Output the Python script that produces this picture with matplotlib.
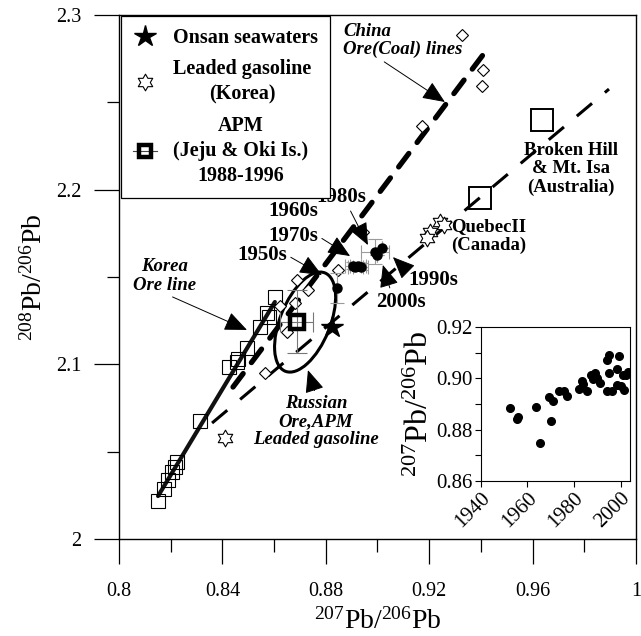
import matplotlib
matplotlib.use('Agg')
import matplotlib.pyplot as plt
import numpy as np
from matplotlib.path import Path
from matplotlib.patches import Ellipse
from matplotlib.transforms import ScaledTranslation
from matplotlib.lines import Line2D

plt.rcParams['font.family'] = ['Liberation Serif', 'DejaVu Serif']
plt.rcParams['mathtext.default'] = 'regular'

# Korean ore (open squares)
korea_x = [0.8152, 0.8174, 0.8188, 0.8204, 0.8217, 0.8226, 0.8313, 0.8427,
           0.8455, 0.8462, 0.8494, 0.8545, 0.8580, 0.8571, 0.8603]
korea_y = [2.0219, 2.0285, 2.0338, 2.0385, 2.0414, 2.0443, 2.0677, 2.0986,
           2.1015, 2.1030, 2.1092, 2.1215, 2.1269, 2.1292, 2.1387]

# China ore / Russian ore (open diamonds)
diam_x = [0.9326, 0.9409, 0.9403, 0.9171, 0.8945, 0.8848, 0.8687, 0.8732,
          0.8623, 0.8681, 0.8649, 0.8565]
diam_y = [2.2885, 2.2685, 2.2594, 2.2364, 2.1759, 2.1540, 2.1483, 2.1426,
          2.1334, 2.1349, 2.1187, 2.0952]

# leaded gasoline (Korea)
gas_x = [0.8410, 0.9242, 0.9203, 0.9190, 0.9258]
gas_y = [2.0577, 2.1817, 2.1758, 2.1725, 2.1800]

# Onsan seawater sediment decades (filled circles)
sw_x = [0.8842, 0.8905, 0.8915, 0.8925, 0.8935, 0.8990, 0.9016, 0.8997]
sw_y = [2.1439, 2.1565, 2.1560, 2.1565, 2.1560, 2.1645, 2.1668, 2.1626]
sw_xerr = [0.0, 0.003, 0.003, 0.003, 0.003, 0.0055, 0.0, 0.0]
sw_yerr = [0.0086, 0.002, 0.002, 0.002, 0.002, 0.007, 0.0, 0.0]

# Onsan seawaters
onsan_x = [0.8823]
onsan_y = [2.1215]

# APM (Jeju & Oki Is.)
apm_x = [0.8687]
apm_y = [2.1244]
apm_xerr = [0.0065]
apm_yerr = [0.018]

# ore deposits (large squares)
ore_x = [0.9636, 0.9397]
ore_y = [2.2399, 2.1952]

# reference lines
korea_line_x = [0.8151, 0.8603]
korea_line_y = [2.0246, 2.1357]
china_line_x = [0.8441, 0.9408]
china_line_y = [2.0870, 2.2771]
bh_line_x = [0.8360, 0.9896]
bh_line_y = [2.0664, 2.2576]

# inset: 207Pb/206Pb vs year
year = [1952.6, 1955.4, 1956.1, 1963.6, 1965.4, 1969.4, 1970.0, 1971.1, 1973.7,
        1975.7, 1976.9, 1982.1, 1983.6, 1983.7, 1985.7, 1987.1, 1988.0, 1989.0,
        1989.7, 1991.1, 1994.0, 1995.0, 1994.3, 1995.1, 1996.3, 1998.3, 1999.3,
        1998.6, 2000.0, 2000.9, 2001.4, 2002.3, 2003.3]
r76 = [0.8884, 0.8841, 0.8848, 0.8888, 0.8746, 0.8929, 0.8834, 0.8910, 0.8949,
       0.8949, 0.8932, 0.8960, 0.8988, 0.8979, 0.8952, 0.9014, 0.8997, 0.9021,
       0.9001, 0.8984, 0.9071, 0.9090, 0.8949, 0.9021, 0.8949, 0.9037, 0.9086,
       0.8975, 0.8969, 0.9014, 0.8956, 0.9014, 0.9027]

# hexagram marker
ang = np.deg2rad(90 + 30 * np.arange(12))
rad = np.where(np.arange(12) % 2 == 0, 1.0, 0.577)
hexv = np.column_stack([rad * np.cos(ang), rad * np.sin(ang)])
hexagram = Path(np.vstack([hexv, hexv[:1]]), closed=True)

fig = plt.figure(figsize=(6.41, 6.36), dpi=100)
ax = fig.add_axes([0.1857, 0.1525, 0.8063, 0.8239])

ax.plot(korea_line_x, korea_line_y, color='#111111', lw=3.0, solid_capstyle='round', zorder=2)
ax.plot(china_line_x, china_line_y, color='black', lw=3.8, dashes=(3.2, 2.6),
        dash_capstyle='round', zorder=2)
ax.plot(bh_line_x, bh_line_y, color='black', lw=2.2, dashes=(6.5, 5.5), zorder=2)

ax.plot(korea_x, korea_y, 's', ms=9.5, mfc='none', mec='black', mew=0.8, zorder=3)
ax.plot(diam_x, diam_y, 'D', ms=6.5, mfc='white', mec='black', mew=0.8, zorder=3)
gas, = ax.plot(gas_x, gas_y, linestyle='none', marker=hexagram, ms=12, mfc='white',
               mec='black', mew=0.8, zorder=4)
ax.errorbar(sw_x, sw_y, xerr=sw_xerr, yerr=sw_yerr, fmt='none', ecolor='#9a9a9a',
            elinewidth=0.8, capsize=5, capthick=0.8, zorder=3)
ax.plot(sw_x, sw_y, 'o', ms=6.5, color='black', zorder=4)
star, = ax.plot(onsan_x, onsan_y, '*', ms=16, color='black', zorder=5)
ax.errorbar(apm_x, apm_y, xerr=apm_xerr, yerr=apm_yerr, fmt='none', ecolor='#777777',
            elinewidth=0.8, capsize=7, capthick=0.8, zorder=4)
ax.plot(apm_x, apm_y, 's', ms=10, mfc='none', mec='black', mew=3.2, zorder=5)
ax.plot(ore_x, ore_y, 's', ms=15.5, mfc='none', mec='black', mew=1.4, zorder=3)

# ellipse drawn in screen units around the mixing region
ell = Ellipse((0, 0), width=1.06, height=0.50, angle=68, fill=False, lw=2.2, color='black',
              transform=fig.dpi_scale_trans + ScaledTranslation(0.8720, 2.1242, ax.transData))
ax.add_patch(ell)

ax.set_xlim(0.8, 1.0)
ax.set_ylim(2.0, 2.3)
ax.set_xticks([0.8, 0.84, 0.88, 0.92, 0.96, 1.0])
ax.set_xticklabels(['0.8', '0.84', '0.88', '0.92', '0.96', '1'])
ax.set_xticks([0.82, 0.86, 0.90, 0.94, 0.98], minor=True)
ax.set_yticks([2.0, 2.1, 2.2, 2.3])
ax.set_yticklabels(['2', '2.1', '2.2', '2.3'])
ax.set_yticks([2.05, 2.15, 2.25], minor=True)
ax.tick_params(which='major', direction='out', length=18, width=0.9, labelsize=14.5)
ax.tick_params(which='minor', direction='out', length=9, width=0.9)
ax.tick_params(axis='x', which='major', pad=13)
ax.tick_params(axis='y', which='major', pad=9)
for s in ax.spines.values():
    s.set_linewidth(1.0)
ax.set_xlabel(r'$^{207}$Pb/$^{206}$Pb', fontsize=20, labelpad=5)
ax.set_ylabel(r'$^{208}$Pb/$^{206}$Pb', fontsize=20, labelpad=6)

apm_handle = Line2D([], [], color='#444444', lw=0.8, marker='s', ms=9, mfc='none',
                    mec='black', mew=3.2)
leg = ax.legend([star, gas, apm_handle],
                ['Onsan seawaters', 'Leaded gasoline\n(Korea)',
                 'APM\n(Jeju & Oki Is.)\n1988-1996'],
                loc='upper left', bbox_to_anchor=(0.003, 0.998), borderaxespad=0,
                fancybox=False, edgecolor='black', framealpha=1,
                prop={'weight': 'bold', 'size': 14.5}, handlelength=1.2,
                handletextpad=0.8, borderpad=0.6, labelspacing=0.55)
leg.get_frame().set_linewidth(0.9)
for t in leg.get_texts():
    t.set_multialignment('center')
    t.set_linespacing(1.35)

bold = dict(fontsize=15, fontweight='bold', ha='center', va='center')
arrow = dict(arrowstyle='-|>,head_length=0.7,head_width=0.3', mutation_scale=20,
             lw=0.7, color='black', shrinkA=1, shrinkB=0)

ax.text(0.8673, 2.1878, '1960s', **bold)
ax.annotate('1950s', xy=(0.8785, 2.1511), xytext=(0.8553, 2.1626),
            arrowprops=dict(arrow, relpos=(1, 0.5)), **bold)
ax.annotate('1970s', xy=(0.8894, 2.1620), xytext=(0.8673, 2.1735),
            arrowprops=dict(arrow, relpos=(1, 0.5)), **bold)
ax.annotate('1980s', xy=(0.8963, 2.1683), xytext=(0.8859, 2.1958),
            arrowprops=dict(arrow, relpos=(0.65, 0)), **bold)
ax.annotate('1990s', xy=(0.9060, 2.1614), xytext=(0.9215, 2.1483),
            arrowprops=dict(arrow, relpos=(0, 0.9)), **bold)
ax.annotate('2000s', xy=(0.9021, 2.1569), xytext=(0.9091, 2.1357),
            arrowprops=dict(arrow, relpos=(0.3, 1)), **bold)

ital = dict(fontsize=13.5, fontweight='bold', fontstyle='italic', va='center',
            linespacing=1.1)
ax.annotate('China\nOre(Coal) lines', xy=(0.9261, 2.2502), xytext=(0.8867, 2.2854),
            ha='left', multialignment='left',
            arrowprops=dict(arrow, relpos=(0.3, 0)), **ital)
ax.annotate('Korea\nOre line', xy=(0.8495, 2.1197), xytext=(0.8178, 2.1506),
            ha='center', multialignment='center',
            arrowprops=dict(arrow, relpos=(0.5, 0)), **ital)
ax.annotate('Russian\nOre,APM\nLeaded gasoline', xy=(0.8731, 2.0967),
            xytext=(0.8762, 2.0673), ha='center', multialignment='center',
            arrowprops=dict(arrow, relpos=(0.5, 1)), **ital)

ax.text(0.9749, 2.2118, 'Broken Hill\n& Mt. Isa\n(Australia)', fontsize=13.5,
        fontweight='bold', ha='center', va='center', linespacing=1.1)
ax.text(0.9431, 2.1735, 'QuebecII\n(Canada)', fontsize=13.5, fontweight='bold',
        ha='center', va='center', linespacing=1.1)

# inset
axi = fig.add_axes([0.750, 0.2442, 0.2329, 0.2412])
axi.plot(year, r76, 'o', ms=5.5, color='black')
axi.set_xlim(1940, 2004)
axi.set_ylim(0.86, 0.92)
axi.set_xticks([1940, 1960, 1980, 2000])
axi.set_yticks([0.86, 0.88, 0.90, 0.92])
axi.set_yticklabels(['0.86', '0.88', '0.90', '0.92'])
axi.set_yticks([0.87, 0.89, 0.91], minor=True)
axi.tick_params(which='both', direction='out', length=4, width=0.8, labelsize=15, pad=2)
plt.setp(axi.get_xticklabels(), rotation=45, ha='right', rotation_mode='anchor')
for s in axi.spines.values():
    s.set_linewidth(0.8)
axi.set_ylabel(r'$^{207}$Pb/$^{206}$Pb', fontsize=23, labelpad=1)

fig.savefig('out.png', dpi=100)
